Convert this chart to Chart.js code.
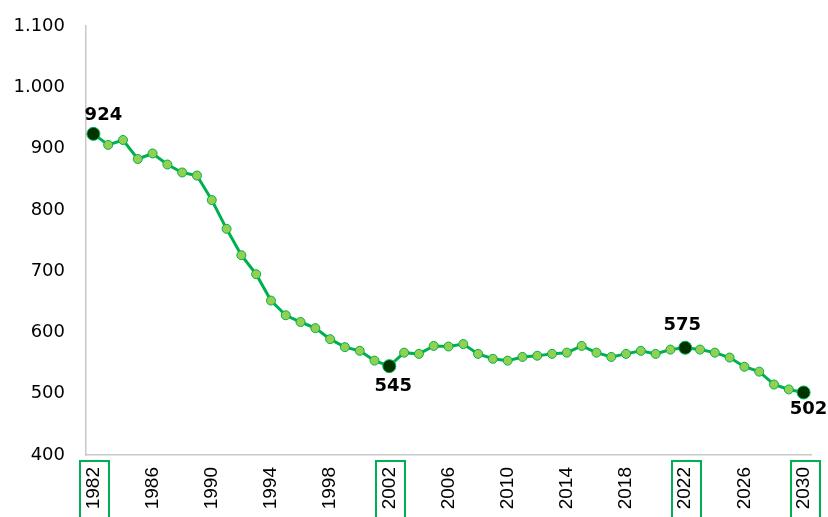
<!DOCTYPE html>
<html>
<head>
<meta charset="utf-8">
<script src="https://cdn.jsdelivr.net/npm/chart.js@4.4.1/dist/chart.umd.min.js"></script>
<style>
  html, body { margin: 0; padding: 0; background: #fff; }
  #wrap { width: 828px; height: 517px; position: relative; }
</style>
</head>
<body>
<div id="wrap"><canvas id="chart" width="828" height="517"></canvas></div>
<script>
// Years on the category axis
const years = ['1982','1983','1984','1985','1986','1987','1988','1989','1990','1991',
    '1992','1993','1994','1995','1996','1997','1998','1999','2000','2001',
    '2002','2003','2004','2005','2006','2007','2008','2009','2010','2011',
    '2012','2013','2014','2015','2016','2017','2018','2019','2020','2021',
    '2022','2023','2024','2025','2026','2027','2028','2029','2030'];

// Series values
const values = [924, 906, 914, 883, 892, 874, 861, 856, 816, 769,
    726, 695, 652, 628, 617, 607, 589, 576, 570, 554,
    545, 567, 565, 578, 577, 581, 565, 557, 554, 560,
    562, 565, 567, 578, 567, 560, 565, 570, 565, 572,
    575, 572, 567, 559, 544, 536, 515, 507, 502];

// Highlighted years (dark marker, value label, boxed tick label)
const highlightYears = ['1982', '2002', '2022', '2030'];

// Y axis range
const yMin = 400;
const yMax = 1100;
const yStep = 100;

const GREEN = '#00B050';
const LIGHT = '#92D050';
const DARK = '#003300';

const isHi = i => highlightYears.includes(years[i]);

function fmt(v) {
    if (v >= 1000) return Math.floor(v / 1000) + '.' + String(v % 1000).padStart(3, '0');
    return String(v);
}

// label offsets relative to the point
const labelPos = {
    '1982': { dx: 10, dy: -19 },
    '2002': { dx: 4, dy: 20 },
    '2022': { dx: -3, dy: -22 },
    '2030': { dx: 5, dy: 17 }
};

// drop the automatic label padding so layout.padding decides the plot box
function noPad(scale) {
    scale.paddingLeft = 0;
    scale.paddingRight = 0;
    scale.paddingTop = 0;
    scale.paddingBottom = 0;
}

const highlightPlugin = {
    id: 'highlights',
    afterDatasetsDraw(chart) {
        const ctx = chart.ctx;
        const meta = chart.getDatasetMeta(0);
        ctx.save();
        ctx.font = 'bold 18px "DejaVu Sans"';
        ctx.fillStyle = '#000';
        ctx.textAlign = 'center';
        ctx.textBaseline = 'middle';
        highlightYears.forEach(y => {
            const i = years.indexOf(y);
            const pt = meta.data[i];
            const p = labelPos[y] || { dx: 0, dy: -20 };
            ctx.fillText(String(values[i]), pt.x + p.dx, pt.y + p.dy);
        });
        ctx.restore();
    },
    afterDraw(chart) {
        const ctx = chart.ctx;
        const xs = chart.scales.x;
        ctx.save();
        ctx.strokeStyle = GREEN;
        ctx.lineWidth = 2;
        highlightYears.forEach(y => {
            const px = xs.getPixelForValue(years.indexOf(y));
            ctx.strokeRect(Math.round(px) - 13, 461, 29, 70);
        });
        ctx.restore();
    }
};

new Chart(document.getElementById('chart'), {
    type: 'line',
    data: {
        labels: years,
        datasets: [{
            data: values,
            borderColor: GREEN,
            borderWidth: 3,
            tension: 0,
            pointRadius: values.map((v, i) => isHi(i) ? 6.5 : 4.5),
            pointBackgroundColor: values.map((v, i) => isHi(i) ? DARK : LIGHT),
            pointBorderColor: GREEN,
            pointBorderWidth: 1
        }]
    },
    options: {
        responsive: false,
        animation: false,
        layout: { padding: { top: 26, right: 17, left: 0, bottom: 0 } },
        plugins: {
            legend: { display: false },
            tooltip: { enabled: false }
        },
        scales: {
            x: {
                offset: true,
                grid: { display: false, drawTicks: false },
                border: { display: true, color: '#c8c8c8', width: 1.5 },
                afterFit(scale) { scale.height = 62; noPad(scale); },
                ticks: {
                    autoSkip: false,
                    minRotation: 90,
                    maxRotation: 90,
                    padding: 12,
                    color: '#000',
                    font: { family: '"Liberation Sans"', size: 19 },
                    callback(val, idx) { return idx % 4 === 0 ? years[idx] : ''; }
                }
            },
            y: {
                min: yMin,
                max: yMax,
                grid: { display: false, drawTicks: false },
                border: { display: true, color: '#c8c8c8', width: 1.5 },
                afterFit(scale) { scale.width = 86; noPad(scale); },
                ticks: {
                    stepSize: yStep,
                    padding: 21,
                    color: '#000',
                    font: { family: '"DejaVu Sans"', size: 18 },
                    callback: v => fmt(v)
                }
            }
        }
    },
    plugins: [highlightPlugin]
});
</script>
</body>
</html>
